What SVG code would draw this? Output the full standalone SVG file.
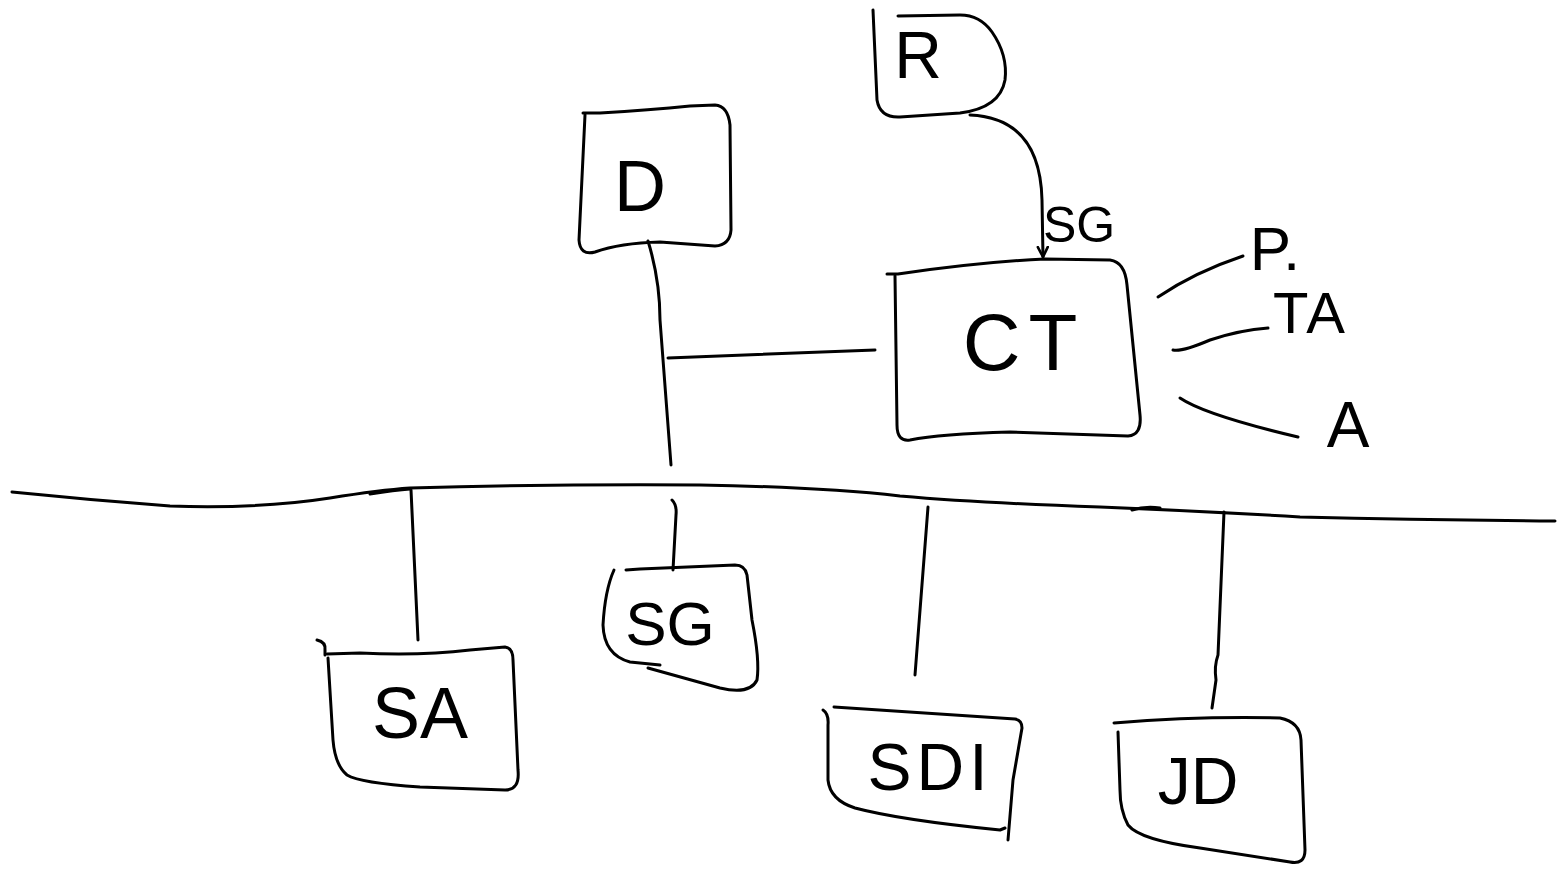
<svg xmlns="http://www.w3.org/2000/svg" width="1557" height="870" viewBox="0 0 1557 870">
<style>
.s{fill:none;stroke:#000;stroke-width:3;stroke-linecap:round;stroke-linejoin:round}
.t{font-family:"Liberation Sans","DejaVu Sans",sans-serif;fill:#000;text-anchor:middle}
</style>
<defs>
<marker id="ah" markerWidth="14" markerHeight="14" refX="11" refY="6" orient="auto" markerUnits="userSpaceOnUse">
<path d="M1,1 L11,6 L1,11" fill="none" stroke="#000" stroke-width="2.6" stroke-linecap="round" stroke-linejoin="round"/>
</marker>
</defs>
<rect width="1557" height="870" fill="#fff"/>
<g id="connectors">
<path class="s" d="M12,492 Q90,500 170,506 Q260,509 330,498 Q380,490 410,488 Q550,484 700,485 Q820,487 900,496 Q980,503 1100,507 Q1200,511 1300,517 Q1420,520 1555,521"/>
<path class="s" d="M370,494 Q395,490 410,489"/>
<path class="s" d="M1132,510 Q1145,506 1160,508"/>
<path class="s" d="M648,241 Q660,280 660,320 L671,465"/>
<path class="s" d="M668,358 Q760,354 875,350"/>
<path class="s" d="M970,115 Q1040,118 1042,200 L1043,257" marker-end="url(#ah)"/>
<path class="s" d="M1158,297 Q1195,272 1243,256"/>
<path class="s" d="M1173,350 Q1182,352 1210,340 Q1240,330 1268,328"/>
<path class="s" d="M1180,398 Q1205,415 1298,437"/>
<path class="s" d="M411,490 L418,640"/>
<path class="s" d="M672,500 Q677,505 676,515 L673,570"/>
<path class="s" d="M928,507 L915,675"/>
<path class="s" d="M1224,512 L1218,655 Q1214,666 1216,680 L1212,708"/>
</g>
<g id="node-R">
<path class="s" d="M873,10 L877,100 Q880,118 900,117 L960,113 Q1000,108 1005,80 Q1008,55 992,32 Q980,15 960,15 L898,16"/>
<text class="t" x="918" y="78" font-size="66">R</text>
</g>
<g id="label-SG-arrow">
<text class="t" x="1079" y="242" font-size="50">SG</text>
</g>
<g id="node-D">
<path class="s" d="M583,113 L600,113 Q650,110 690,106 L715,105 Q728,106 730,125 L731,230 Q730,245 715,246 L660,242 Q620,243 595,252 Q580,256 579,240 L585,115"/>
<text class="t" x="640" y="211" font-size="72">D</text>
</g>
<g id="node-CT">
<path class="s" d="M887,274 L898,274 Q980,262 1045,259 L1110,260 Q1125,262 1127,285 L1140,415 Q1142,435 1128,436 L1010,432 Q940,434 910,440 Q897,442 897,425 L895,276"/>
<text class="t" x="1024" y="370" font-size="80" letter-spacing="8">CT</text>
</g>
<g id="label-P">
<text class="t" x="1275" y="270" font-size="62">P.</text>
</g>
<g id="label-TA">
<text class="t" x="1310" y="333" font-size="58" letter-spacing="2">TA</text>
</g>
<g id="label-A">
<text class="t" x="1348" y="447" font-size="64">A</text>
</g>
<g id="node-SA">
<path class="s" d="M317,640 Q326,642 325,650 L325,655"/>
<path class="s" d="M327,654 L360,653 Q420,656 470,650 L505,647 Q513,648 513,660 L518,770 Q520,790 505,790 L420,787 Q360,783 347,775 Q335,765 333,740 L328,658"/>
<text class="t" x="420" y="738" font-size="72">SA</text>
</g>
<g id="node-SG">
<path class="s" d="M614,570 Q605,590 603,625 Q604,655 630,662 L660,665"/>
<path class="s" d="M648,668 L720,688 Q750,695 757,680 Q760,660 752,620 L747,575 Q745,565 735,565 L640,569 L626,570"/>
<text class="t" x="670" y="645" font-size="62">SG</text>
</g>
<g id="node-SDI">
<path class="s" d="M834,707 L1015,719 Q1022,720 1022,728 L1013,780 L1008,840"/>
<path class="s" d="M823,710 Q829,714 828,725 L828,780 Q830,800 855,808 Q900,820 1000,830 L1005,828"/>
<text class="t" x="930" y="790" font-size="66" letter-spacing="5">SDI</text>
</g>
<g id="node-JD">
<path class="s" d="M1114,723 Q1200,716 1280,718 Q1300,722 1301,740 L1305,850 Q1305,865 1290,862 L1200,848 Q1140,840 1128,825 Q1120,810 1120,790 L1118,732"/>
<text class="t" x="1198" y="804" font-size="66">JD</text>
</g>
</svg>
